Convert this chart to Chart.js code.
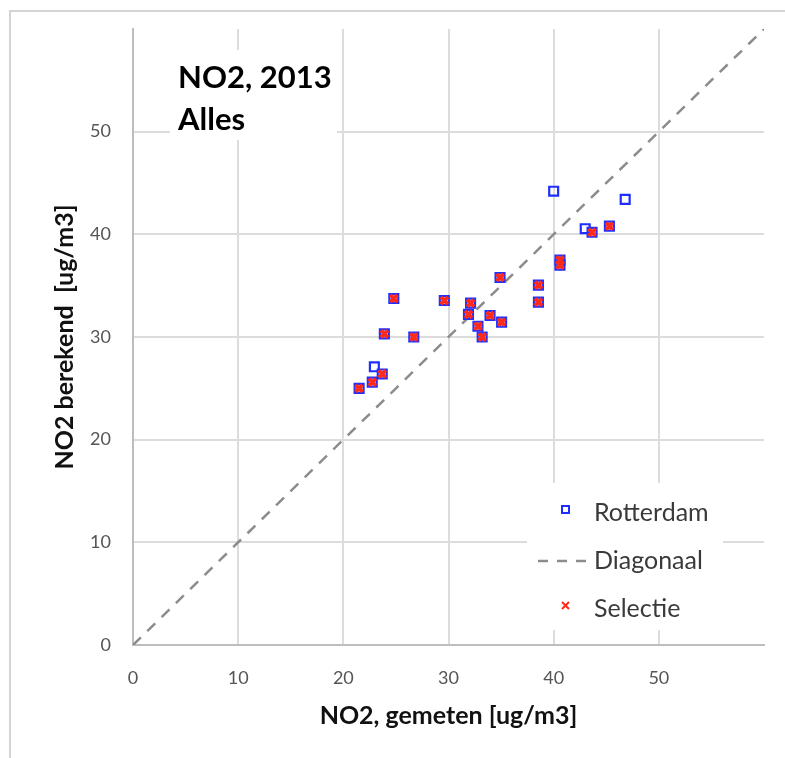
<!DOCTYPE html>
<html>
<head>
<meta charset="utf-8">
<script src="https://cdn.jsdelivr.net/npm/chart.js@4.4.0/dist/chart.umd.min.js"></script>
<style>
  html, body { margin: 0; padding: 0; background: #fff; }
  #wrap { position: relative; width: 785px; height: 758px; }
</style>
</head>
<body>
<div id="wrap"><canvas id="chart"></canvas></div>
<script>
// NO2 gemeten (x) vs berekend (y), Rotterdam stations
const rotterdamX = [21.5, 22.95, 22.75, 23.7, 23.9, 24.8, 26.7, 29.6, 31.9, 32.1, 32.8, 33.2, 33.95, 35.05, 34.9, 38.55, 38.55, 40.6, 40.6, 40.0, 43.0, 43.65, 45.3, 46.8];
const rotterdamY = [25.0, 27.1, 25.6, 26.4, 30.3, 33.75, 30.0, 33.55, 32.2, 33.3, 31.05, 30.0, 32.1, 31.45, 35.8, 35.05, 33.4, 37.5, 37.0, 44.2, 40.55, 40.2, 40.8, 43.4];

const selectieX = [21.5, 22.75, 23.7, 23.9, 24.8, 26.7, 29.6, 31.9, 32.1, 32.8, 33.2, 33.95, 35.05, 34.9, 38.55, 38.55, 40.6, 40.6, 43.65, 45.3];
const selectieY = [25.0, 25.6, 26.4, 30.3, 33.75, 30.0, 33.55, 32.2, 33.3, 31.05, 30.0, 32.1, 31.45, 35.8, 35.05, 33.4, 37.5, 37.0, 40.2, 40.8];

const diagX = [0, 60];
const diagY = [0, 60];

const tickLabels = [0, 10, 20, 30, 40, 50];
const chartTitle = ['NO2, 2013', 'Alles'];
const xTitle = 'NO2, gemeten [ug/m3]';
const yTitle = 'NO2 berekend  [ug/m3]';

const toPoints = (xs, ys) => xs.map((x, i) => ({ x: x, y: ys[i] }));

Chart.defaults.font.family = 'Lato';

const BLUE = '#1f2fff';
const RED = '#ff2a1a';
const DIAG = '#8c8c8c';
const GRID = '#dcdcdc';

const boxes = {
  id: 'boxes',
  beforeDraw(chart) {
    const ctx = chart.ctx;
    ctx.save();
    ctx.strokeStyle = '#d4d4d4';
    ctx.lineWidth = 2;
    ctx.beginPath();
    ctx.moveTo(10, chart.height);
    ctx.lineTo(10, 11);
    ctx.lineTo(chart.width, 11);
    ctx.stroke();
    ctx.restore();
  },
  beforeDatasetsDraw(chart) {
    const { ctx, chartArea: a } = chart;
    const ds = chart.data.datasets;
    ctx.save();

    // title block
    ctx.fillStyle = '#fff';
    ctx.fillRect(a.left + 37, a.top + 21, 167, 90);
    ctx.fillStyle = '#000';
    ctx.font = 'bold 31px Lato';
    ctx.textBaseline = 'middle';
    ctx.textAlign = 'left';
    chartTitle.forEach((t, i) => ctx.fillText(t, a.left + 45, a.top + 49 + i * 42));

    // legend
    const lx = a.left + 394, ly = a.top + 454;
    ctx.fillStyle = '#fff';
    ctx.fillRect(lx, ly, 196, 147);
    ctx.font = '25px Lato';
    ctx.fillStyle = '#3a3a3a';
    const rows = [ly + 30, ly + 78, ly + 126];
    ds.forEach((d, i) => ctx.fillText(d.label, lx + 67, rows[i]));

    // Rotterdam marker
    ctx.strokeStyle = ds[0].borderColor;
    ctx.lineWidth = 2;
    ctx.strokeRect(lx + 35, rows[0] - 7, 7, 7);
    // Diagonaal marker
    ctx.strokeStyle = ds[1].borderColor;
    ctx.lineWidth = 2.5;
    ctx.setLineDash([10, 9]);
    ctx.beginPath();
    ctx.moveTo(lx + 11, rows[1]);
    ctx.lineTo(lx + 63, rows[1]);
    ctx.stroke();
    ctx.setLineDash([]);
    // Selectie marker
    ctx.strokeStyle = ds[2].borderColor;
    ctx.lineWidth = 2;
    ctx.beginPath();
    ctx.moveTo(lx + 35, rows[2] - 7);
    ctx.lineTo(lx + 42, rows[2]);
    ctx.moveTo(lx + 42, rows[2] - 7);
    ctx.lineTo(lx + 35, rows[2]);
    ctx.stroke();

    ctx.restore();
  }
};

const axisCommon = {
  min: 0,
  max: 60,
  grid: {
    color: (c) => (c.tick && c.tick.value === 60 ? 'rgba(0,0,0,0)' : GRID),
    lineWidth: 2,
    drawTicks: false
  },
  border: { display: true, color: '#bdbdbd', width: 2 },
  ticks: {
    stepSize: 10,
    color: '#555',
    font: { size: 18 },
    callback: (v) => (tickLabels.includes(v) ? String(v) : '')
  }
};

new Chart(document.getElementById('chart'), {
  type: 'scatter',
  data: {
    datasets: [
      {
        label: 'Rotterdam',
        data: toPoints(rotterdamX, rotterdamY),
        pointStyle: 'rect',
        pointRadius: 6.3,
        pointBorderWidth: 2.2,
        borderColor: BLUE,
        backgroundColor: 'rgba(0,0,0,0)',
        order: 2
      },
      {
        label: 'Diagonaal',
        data: toPoints(diagX, diagY),
        showLine: true,
        pointRadius: 0,
        borderColor: DIAG,
        borderWidth: 2.5,
        borderDash: [11, 9],
        order: 3
      },
      {
        label: 'Selectie',
        data: toPoints(selectieX, selectieY),
        pointStyle: 'crossRot',
        pointRadius: 5,
        pointBorderWidth: 3.8,
        borderColor: RED,
        backgroundColor: RED,
        order: 1
      }
    ]
  },
  options: {
    responsive: true,
    maintainAspectRatio: false,
    animation: false,
    layout: { padding: { left: 0, top: 29, right: 21, bottom: 0 } },
    plugins: {
      legend: { display: false },
      tooltip: { enabled: false }
    },
    scales: {
      x: {
        ...axisCommon,
        ticks: { ...axisCommon.ticks, padding: 22 },
        title: {
          display: true,
          text: xTitle,
          color: '#111',
          font: { size: 25, weight: 'bold' },
          padding: { top: 0, bottom: 27 }
        },
        afterFit: (s) => {
          s.height = 113;
          s.paddingLeft = 0;
          s.paddingRight = 0;
        }
      },
      y: {
        ...axisCommon,
        ticks: { ...axisCommon.ticks, padding: 22 },
        title: {
          display: true,
          text: yTitle,
          color: '#111',
          font: { size: 25, weight: 'bold' },
          padding: { top: 50, bottom: 0 }
        },
        afterFit: (s) => {
          s.width = 133;
          s.paddingTop = 0;
          s.paddingBottom = 0;
        }
      }
    }
  },
  plugins: [boxes]
});
</script>
</body>
</html>
